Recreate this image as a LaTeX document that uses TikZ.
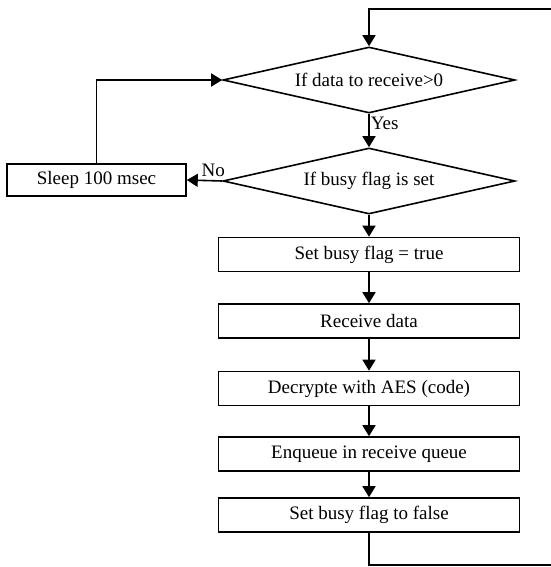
\documentclass[tikz,border=0pt]{standalone}
\usepackage{fontspec}
\setmainfont{Liberation Serif}
\usetikzlibrary{shapes.geometric,arrows.meta}
\tikzset{
  flow/.style={line width=1.6pt},
  arr/.style={flow,-{Triangle[length=11pt,width=13pt]}},
  stepbox/.style={draw,line width=1.6pt,minimum width=301pt,minimum height=34pt,inner sep=0pt},
  decision/.style={diamond,draw,line width=1.6pt,minimum width=292pt,minimum height=66pt,inner sep=0pt},
  lbl/.style={font=\fontsize{19}{22}\selectfont}
}
\begin{document}
\begin{tikzpicture}[x=1pt,y=-1pt]
\useasboundingbox (0,0) rectangle (550,567);
\fill[white] (0,0) rectangle (550,567);

% decisions
\node[decision] (d1) at (369,80) {};
\node[lbl] at (d1) {If data to receive>0};
\node[decision] (d2) at (369,181) {};
\node[lbl] at (d2) {If busy flag is set};

% wait branch
\node[draw,line width=1.6pt,minimum width=179pt,minimum height=32pt,inner sep=0pt,lbl] (sleep) at (96.5,180) {Sleep 100 msec};

% processing steps
\node[stepbox,lbl] (b1) at (369,254.5) {Set busy flag = true};
\node[stepbox,lbl] (b2) at (369,321) {Receive data};
\node[stepbox,lbl] (b3) at (369,388.5) {Decrypte with AES (code)};
\node[stepbox,lbl] (b4) at (369,454) {Enqueue in receive queue};
\node[stepbox,lbl] (b5) at (369,515) {Set busy flag to false};

% loop back from the last step to the first decision
\coordinate (rin) at (551,9);
\coordinate (rout) at (551,565);
\draw[arr] (rin) -| (d1.north);
\draw[flow] (b5.south) |- (rout);

% connectors
\draw[arr] (d1.south) -- (d2.north) node[lbl,pos=0.3,anchor=west,inner sep=1pt] {Yes};
\draw[arr] (d2.west) -- (sleep.east) node[lbl,pos=0.25,anchor=south,inner sep=3pt] {No};
\draw[arr] (sleep.north) |- (d1.west);
\draw[arr] (d2.south) -- (b1.north);
\draw[arr] (b1.south) -- (b2.north);
\draw[arr] (b2.south) -- (b3.north);
\draw[arr] (b3.south) -- (b4.north);
\draw[arr] (b4.south) -- (b5.north);
\end{tikzpicture}
\end{document}
